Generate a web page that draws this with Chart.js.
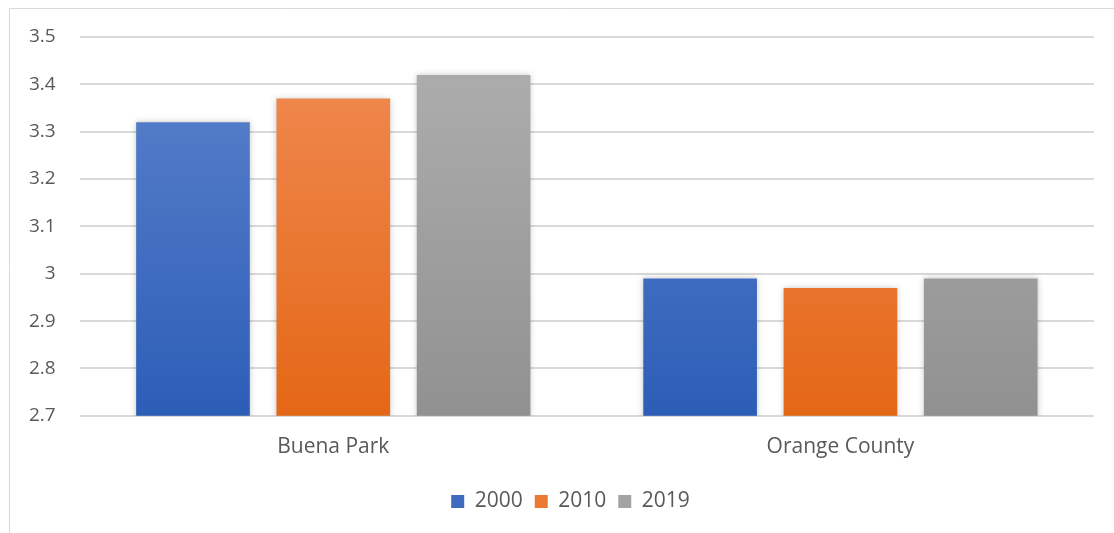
<!DOCTYPE html>
<html><head><meta charset="utf-8">
<script src="https://cdn.jsdelivr.net/npm/chart.js@4/dist/chart.umd.min.js"></script>
<style>
html,body{margin:0;padding:0;background:#fff;}
#wrap{position:absolute;left:0;top:0;width:1114px;height:533px;}
</style></head>
<body><div id="wrap"><canvas id="c" width="1114" height="533"></canvas></div>
<script>
const categories = ["Buena Park", "Orange County"];
const seriesNames = ["2000", "2010", "2019"];
const values2000 = [3.32, 2.99];
const values2010 = [3.37, 2.97];
const values2019 = [3.42, 2.99];
const yTicks = [2.7, 2.8, 2.9, 3, 3.1, 3.2, 3.3, 3.4, 3.5];

const gradStops = [
  ["#5d84cc", "#2c5db7"],
  ["#f18c55", "#e46716"],
  ["#afafaf", "#919191"]
];
function grad(i){
  return function(ctx){
    const ch = ctx.chart, a = ch.chartArea;
    if(!a) return gradStops[i][1];
    const g = ch.ctx.createLinearGradient(0, a.top, 0, a.bottom);
    g.addColorStop(0, gradStops[i][0]);
    g.addColorStop(1, gradStops[i][1]);
    return g;
  };
}
const legendColors = ["#3f6cc1", "#ec7a34", "#a3a3a3"];

const borderPlugin = {
  id: 'frame',
  beforeDraw(chart){
    const c = chart.ctx;
    c.save();
    c.strokeStyle = '#d9d9d9';
    c.lineWidth = 1;
    c.beginPath();
    c.moveTo(9.5, 533); c.lineTo(9.5, 8.5); c.lineTo(1114, 8.5);
    c.stroke();
    c.restore();
  }
};
const shadowPlugin = {
  id: 'shadow',
  beforeDatasetsDraw(chart){
    const c = chart.ctx;
    c.save();
    c.shadowColor = 'rgba(0,0,0,0.22)';
    c.shadowBlur = 6;
    c.shadowOffsetX = 0;
    c.shadowOffsetY = 0;
  },
  afterDatasetsDraw(chart){ chart.ctx.restore(); }
};
const legendShift = {
  id: 'legendShift',
  afterLayout(chart){
    if(chart.legend){ chart.legend.left += 21; chart.legend.right += 21; }
  }
};

const data = {
  labels: categories,
  datasets: [values2000, values2010, values2019].map((v, i) => ({
    label: seriesNames[i],
    data: v,
    backgroundColor: grad(i),
    borderWidth: 0,
    barPercentage: 0.81,
    categoryPercentage: 0.83
  }))
};

new Chart(document.getElementById('c'), {
  type: 'bar',
  data,
  plugins: [borderPlugin, shadowPlugin, legendShift],
  options: {
    responsive: false,
    animation: false,
    layout: { padding: { left: 5, right: 20, top: 37, bottom: 11 } },
    plugins: {
      title: { display: false },
      tooltip: { enabled: false },
      legend: {
        position: 'bottom',
        labels: {
          boxWidth: 13, boxHeight: 13, padding: 12,
          color: '#595959',
          font: { family: "'Open Sans', sans-serif", size: 21 },
          generateLabels(chart){
            return seriesNames.map((n, i) => ({
              text: n, fillStyle: legendColors[i], strokeStyle: legendColors[i],
              lineWidth: 0, datasetIndex: i, fontColor: '#595959'
            }));
          }
        }
      }
    },
    scales: {
      x: {
        grid: { display: false, drawTicks: false },
        border: { display: false },
        ticks: { color: '#595959', padding: 19, font: { family: "'Open Sans', sans-serif", size: 21 } }
      },
      y: {
        min: 2.7, max: 3.5,
        afterBuildTicks(axis){ axis.ticks = yTicks.map(v => ({ value: v })); },
        grid: { color: '#d9d9d9', lineWidth: 2, drawTicks: false },
        border: { display: false },
        ticks: {
          color: '#595959', padding: 24,
          font: { family: "'Open Sans', sans-serif", size: 19 },
          callback: v => String(Math.round(v * 10) / 10)
        }
      }
    }
  }
});
</script></body></html>
